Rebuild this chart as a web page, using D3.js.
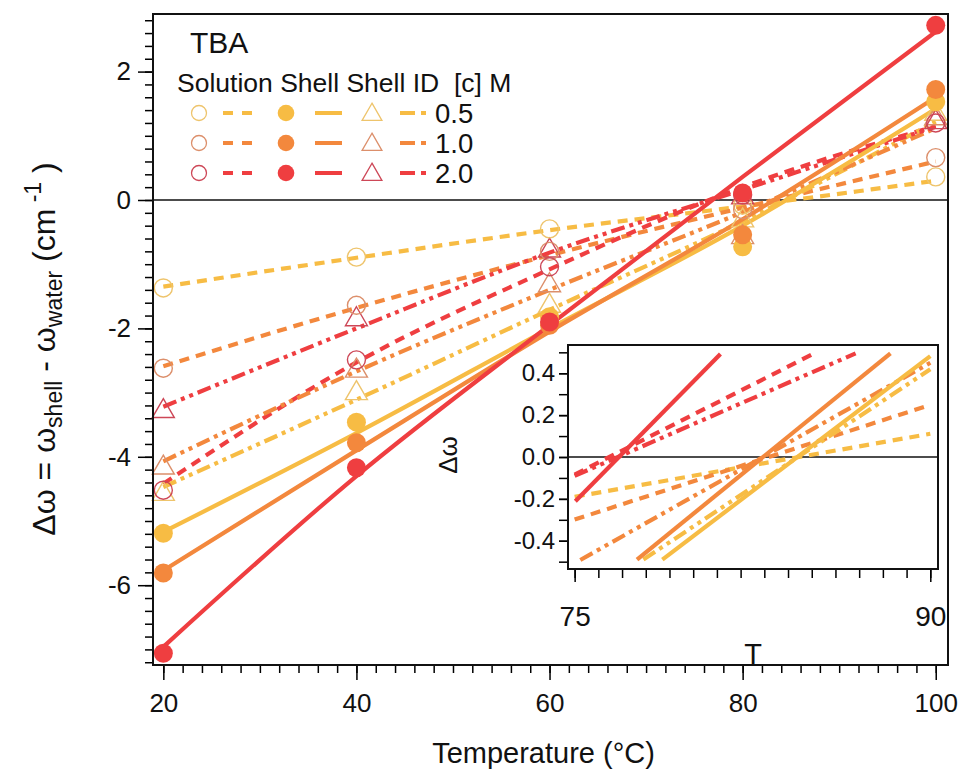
<!DOCTYPE html>
<html>
<head>
<meta charset="utf-8">
<script src="https://cdn.jsdelivr.net/npm/d3@7"></script>
<style>
body { margin: 0; background: #fff; }
text { font-family: "Liberation Sans", Arial, sans-serif; fill: #111; }
</style>
</head>
<body>
<div id="chart"></div>
<script>
// ---- data ----
var temps = [20, 40, 60, 80, 100];
var concLabels = ["0.5", "1.0", "2.0"];

// measured points (open circle = Solution, filled = Shell, triangle = Shell ID)
var solution05 = [-1.37, -0.89, -0.45, -0.08, 0.36];
var solution10 = [-2.62, -1.64, -0.80, -0.15, 0.66];
var solution20 = [-4.52, -2.49, -1.04, 0.08, 1.20];
var shell05 = [-5.19, -3.46, -1.82, -0.73, 1.53];
var shell10 = [-5.81, -3.78, -1.95, -0.54, 1.72];
var shell20 = [-7.06, -4.17, -1.90, 0.11, 2.72];
var shellId05 = [-4.57, -3.00, -1.64, -0.31, 1.35];
var shellId10 = [-4.16, -2.65, -1.32, -0.57, 1.28];
var shellId20 = [-3.28, -1.85, -0.78, 0.05, 1.22];

// fitted curves, sampled at the same temperatures
var solutionFit05 = [-1.35, -0.90, -0.47, -0.10, 0.30];
var solutionFit10 = [-2.59, -1.68, -0.86, -0.12, 0.60];
var solutionFit20 = [-4.42, -2.53, -1.08, 0.20, 1.15];
var shellFit05 = [-5.17, -3.63, -2.00, -0.40, 1.42];
var shellFit10 = [-5.77, -3.90, -2.05, -0.30, 1.60];
var shellFit20 = [-6.96, -4.30, -1.95, 0.36, 2.62];
var shellIdFit05 = [-4.47, -3.11, -1.71, -0.33, 1.22];
var shellIdFit10 = [-4.07, -2.67, -1.40, -0.19, 1.12];
var shellIdFit20 = [-3.22, -2.00, -0.82, 0.16, 1.14];

// inset: fit segments between 75 and 90 C, [T, value]
var insetSolution05 = [[75.0, -0.190], [90.0, 0.111]];
var insetSolution10 = [[75.0, -0.299], [90.0, 0.249]];
var insetSolution20 = [[75.0, -0.084], [85.16, 0.498]];
var insetShell05 = [[78.7, -0.490], [90.0, 0.482]];
var insetShell10 = [[77.63, -0.490], [88.32, 0.495]];
var insetShell20 = [[75.03, -0.211], [81.15, 0.492]];
var insetShellId05 = [[77.9, -0.490], [90.0, 0.419]];
var insetShellId10 = [[75.24, -0.492], [90.0, 0.450]];
var insetShellId20 = [[75.0, -0.090], [86.85, 0.495]];

var xTicks = [20, 40, 60, 80, 100];
var yTicks = [-6, -4, -2, 0, 2];
var insetXTicks = [75, 90];
var insetYTicks = [-0.4, -0.2, 0.0, 0.2, 0.4];

// ---- styles ----
var lineColors = ["#f7bc44", "#f3883d", "#ef3e40"];
var markerColors = ["#eec46c", "#dc8f6b", "#cd4757"];
var dashSolution = "10,7";
var dashShellId = "14,5,4,5,4,5";

var W = 967, H = 772;
var plot = {left: 153, right: 948, top: 14, bottom: 665};
var ins = {left: 568, right: 938, top: 345, bottom: 569};

var svg = d3.select("#chart")
  .append("svg")
  .attr("width", W)
  .attr("height", H);

var x = d3.scaleLinear().domain([18.93, 101.27]).range([plot.left, plot.right]);
var y = d3.scaleLinear().domain([-7.243, 2.897]).range([plot.bottom, plot.top]);

// main axes: minor ticks, then major ticks with labels
svg.append("g")
  .attr("transform", "translate(" + plot.left + ",0)")
  .call(d3.axisLeft(y).tickValues(d3.range(-7.2, 2.81, 0.2)).tickSize(8).tickFormat(""))
  .call(function(g) { g.select(".domain").remove(); g.selectAll("line").attr("stroke-width", 1.5); });
svg.append("g")
  .attr("transform", "translate(" + plot.left + ",0)")
  .call(d3.axisLeft(y).tickValues(yTicks).tickSize(15).tickPadding(7).tickFormat(d3.format("d")))
  .call(function(g) {
    g.select(".domain").remove();
    g.selectAll("line").attr("stroke-width", 1.5);
    g.selectAll("text").attr("font-size", 26).attr("font-family", null).text(function(d) { return String(d).replace("\u2212", "-"); });
  });

svg.append("g")
  .attr("transform", "translate(0," + plot.bottom + ")")
  .call(d3.axisBottom(x).tickValues(d3.range(20, 100.1, 2)).tickSize(8).tickFormat(""))
  .call(function(g) { g.select(".domain").remove(); g.selectAll("line").attr("stroke-width", 1.5); });
svg.append("g")
  .attr("transform", "translate(0," + plot.bottom + ")")
  .call(d3.axisBottom(x).tickValues(xTicks).tickSize(15).tickPadding(14))
  .call(function(g) {
    g.select(".domain").remove();
    g.selectAll("line").attr("stroke-width", 1.5);
    g.selectAll("text").attr("font-size", 26).attr("font-family", null);
  });

// axis titles
svg.append("text")
  .attr("x", (plot.left + plot.right) / 2 - 7)
  .attr("y", 763)
  .attr("text-anchor", "middle")
  .attr("font-size", 29)
  .text("Temperature (\u00B0C)");

var yTitle = svg.append("text")
  .attr("transform", "translate(55,349) rotate(-90)")
  .attr("text-anchor", "middle")
  .attr("font-size", 32);
yTitle.append("tspan").text("\u0394\u03C9 = \u03C9");
yTitle.append("tspan").attr("font-size", 23).attr("dy", 7).text("shell");
yTitle.append("tspan").attr("dy", -7).text(" - \u03C9");
yTitle.append("tspan").attr("font-size", 23).attr("dy", 7).text("water");
yTitle.append("tspan").attr("dy", -7).text(" (cm");
yTitle.append("tspan").attr("font-size", 23).attr("dy", -14).text(" -1");
yTitle.append("tspan").attr("dy", 14).text(" )");

// zero line
svg.append("line")
  .attr("x1", plot.left).attr("x2", plot.right)
  .attr("y1", y(0)).attr("y2", y(0))
  .attr("stroke", "#111").attr("stroke-width", 1.5);

// fit lines
var mainLine = d3.line()
  .x(function(d, i) { return x(temps[i]); })
  .y(function(d) { return y(d); })
  .curve(d3.curveMonotoneX);

var fits = [
  {v: solutionFit05, c: 0, dash: dashSolution},
  {v: solutionFit10, c: 1, dash: dashSolution},
  {v: solutionFit20, c: 2, dash: dashSolution},
  {v: shellIdFit05, c: 0, dash: dashShellId},
  {v: shellIdFit10, c: 1, dash: dashShellId},
  {v: shellIdFit20, c: 2, dash: dashShellId},
  {v: shellFit05, c: 0, dash: null},
  {v: shellFit10, c: 1, dash: null},
  {v: shellFit20, c: 2, dash: null}
];

svg.append("g").selectAll("path")
  .data(fits)
  .enter()
  .append("path")
  .attr("d", function(d) { return mainLine(d.v); })
  .attr("fill", "none")
  .attr("stroke", function(d) { return lineColors[d.c]; })
  .attr("stroke-width", 4.2)
  .attr("stroke-dasharray", function(d) { return d.dash; });

// markers
function triangle(s) {
  return "M0," + (-12 * s) + "L" + (11 * s) + "," + (7 * s) + "L" + (-11 * s) + "," + (7 * s) + "Z";
}

var openSets = [solution05, solution10, solution20];
var filledSets = [shell05, shell10, shell20];
var triSets = [shellId05, shellId10, shellId20];

var markers = svg.append("g");
triSets.forEach(function(set, c) {
  markers.selectAll(".tri" + c)
    .data(set)
    .enter()
    .append("path")
    .attr("transform", function(d, i) { return "translate(" + x(temps[i]) + "," + y(d) + ")"; })
    .attr("d", triangle(1))
    .attr("fill", "none")
    .attr("stroke", markerColors[c])
    .attr("stroke-width", 1.4);
});
openSets.forEach(function(set, c) {
  markers.selectAll(".open" + c)
    .data(set)
    .enter()
    .append("circle")
    .attr("cx", function(d, i) { return x(temps[i]); })
    .attr("cy", function(d) { return y(d); })
    .attr("r", 9)
    .attr("fill", "none")
    .attr("stroke", markerColors[c])
    .attr("stroke-width", 1.4);
});
filledSets.forEach(function(set, c) {
  markers.selectAll(".fill" + c)
    .data(set)
    .enter()
    .append("circle")
    .attr("cx", function(d, i) { return x(temps[i]); })
    .attr("cy", function(d) { return y(d); })
    .attr("r", 9.5)
    .attr("fill", lineColors[c]);
});

// frame
svg.append("rect")
  .attr("x", plot.left).attr("y", plot.top)
  .attr("width", plot.right - plot.left).attr("height", plot.bottom - plot.top)
  .attr("fill", "none").attr("stroke", "#111").attr("stroke-width", 2);

// legend
var legend = svg.append("g");
legend.append("text").attr("x", 190).attr("y", 53).attr("font-size", 30).text("TBA");
legend.append("text").attr("x", 177).attr("y", 92).attr("font-size", 26.5)
  .style("white-space", "pre").text("Solution Shell Shell ID  [c] M");

var rowY = [113, 143, 173];
concLabels.forEach(function(lab, c) {
  var ry = rowY[c];
  legend.append("circle").attr("cx", 199).attr("cy", ry).attr("r", 7.5)
    .attr("fill", "none").attr("stroke", markerColors[c]).attr("stroke-width", 1.3);
  legend.append("line").attr("x1", 223).attr("x2", 252).attr("y1", ry).attr("y2", ry)
    .attr("stroke", lineColors[c]).attr("stroke-width", 4).attr("stroke-dasharray", "10,9");
  legend.append("circle").attr("cx", 286).attr("cy", ry).attr("r", 8.3).attr("fill", lineColors[c]);
  legend.append("line").attr("x1", 315).attr("x2", 342).attr("y1", ry).attr("y2", ry)
    .attr("stroke", lineColors[c]).attr("stroke-width", 4);
  legend.append("path").attr("transform", "translate(372," + (ry + 1) + ")").attr("d", triangle(0.9))
    .attr("fill", "none").attr("stroke", markerColors[c]).attr("stroke-width", 1.3);
  legend.append("line").attr("x1", 400).attr("x2", 427).attr("y1", ry).attr("y2", ry)
    .attr("stroke", lineColors[c]).attr("stroke-width", 4).attr("stroke-dasharray", "15,6,5,20");
  legend.append("text").attr("x", 435).attr("y", ry + 10).attr("font-size", 27.5).text(lab);
});

// ---- inset ----
var xi = d3.scaleLinear().domain([74.72, 90.325]).range([ins.left, ins.right]);
var yi = d3.scaleLinear().domain([-0.535, 0.535]).range([ins.bottom, ins.top]);

svg.append("rect")
  .attr("x", ins.left).attr("y", ins.top)
  .attr("width", ins.right - ins.left).attr("height", ins.bottom - ins.top)
  .attr("fill", "#fff");

svg.append("g")
  .attr("transform", "translate(" + ins.left + ",0)")
  .call(d3.axisLeft(yi).tickValues(d3.range(-0.5, 0.51, 0.1)).tickSize(9).tickFormat(""))
  .call(function(g) { g.select(".domain").remove(); g.selectAll("line").attr("stroke-width", 1.5); });
svg.append("g")
  .attr("transform", "translate(" + ins.left + ",0)")
  .call(d3.axisLeft(yi).tickValues(insetYTicks).tickSize(9).tickPadding(4).tickFormat(d3.format(".1f")))
  .call(function(g) {
    g.select(".domain").remove();
    g.selectAll("line").attr("stroke-width", 1.5);
    g.selectAll("text").attr("font-size", 24).attr("font-family", null).text(function(d) { return d3.format(".1f")(d).replace("\u2212", "-"); });
  });
svg.append("g")
  .attr("transform", "translate(0," + ins.bottom + ")")
  .call(d3.axisBottom(xi).tickValues(d3.range(75, 90.1, 1)).tickSize(9).tickFormat(""))
  .call(function(g) { g.select(".domain").remove(); g.selectAll("line").attr("stroke-width", 1.5); });
svg.append("g")
  .attr("transform", "translate(0," + ins.bottom + ")")
  .call(d3.axisBottom(xi).tickValues(insetXTicks).tickSize(13).tickPadding(24))
  .call(function(g) {
    g.select(".domain").remove();
    g.selectAll("line").attr("stroke-width", 1.5);
    g.selectAll("text").attr("font-size", 28).attr("font-family", null);
  });

svg.append("text").attr("x", 753).attr("y", 664).attr("text-anchor", "middle").attr("font-size", 29).text("T");
svg.append("text").attr("transform", "translate(457,455) rotate(-90)").attr("text-anchor", "middle")
  .attr("font-size", 26).text("\u0394\u03C9");

svg.append("line")
  .attr("x1", ins.left).attr("x2", ins.right)
  .attr("y1", yi(0)).attr("y2", yi(0))
  .attr("stroke", "#111").attr("stroke-width", 1.5);

var insetLine = d3.line()
  .x(function(d) { return xi(d[0]); })
  .y(function(d) { return yi(d[1]); });

var insetFits = [
  {v: insetSolution05, c: 0, dash: dashSolution},
  {v: insetSolution10, c: 1, dash: dashSolution},
  {v: insetSolution20, c: 2, dash: dashSolution},
  {v: insetShellId05, c: 0, dash: dashShellId},
  {v: insetShellId10, c: 1, dash: dashShellId},
  {v: insetShellId20, c: 2, dash: dashShellId},
  {v: insetShell05, c: 0, dash: null},
  {v: insetShell10, c: 1, dash: null},
  {v: insetShell20, c: 2, dash: null}
];

svg.append("g").selectAll("path")
  .data(insetFits)
  .enter()
  .append("path")
  .attr("d", function(d) { return insetLine(d.v); })
  .attr("fill", "none")
  .attr("stroke", function(d) { return lineColors[d.c]; })
  .attr("stroke-width", 4.2)
  .attr("stroke-dasharray", function(d) { return d.dash; });

svg.append("rect")
  .attr("x", ins.left).attr("y", ins.top)
  .attr("width", ins.right - ins.left).attr("height", ins.bottom - ins.top)
  .attr("fill", "none").attr("stroke", "#111").attr("stroke-width", 2);
</script>
</body>
</html>
